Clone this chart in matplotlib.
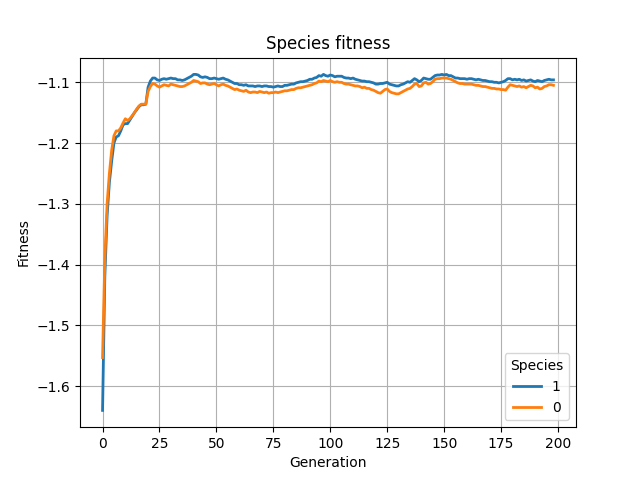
import matplotlib
matplotlib.use("Agg")
import matplotlib.pyplot as plt

species_1 = [
    -1.640, -1.420, -1.320, -1.265, -1.230, -1.200, -1.190, -1.188, -1.180, -1.170,
    -1.168, -1.168, -1.162, -1.156, -1.150, -1.145, -1.140, -1.137, -1.137, -1.136,
    -1.108, -1.098, -1.093, -1.093, -1.096, -1.097, -1.095, -1.094, -1.095, -1.094,
    -1.093, -1.094, -1.094, -1.096, -1.096, -1.097, -1.096, -1.094, -1.092, -1.090,
    -1.087, -1.087, -1.088, -1.091, -1.092, -1.091, -1.092, -1.094, -1.094, -1.093,
    -1.094, -1.095, -1.094, -1.093, -1.095, -1.096, -1.098, -1.100, -1.102, -1.102,
    -1.104, -1.104, -1.105, -1.104, -1.106, -1.106, -1.106, -1.107, -1.106, -1.106,
    -1.107, -1.106, -1.106, -1.107, -1.107, -1.108, -1.107, -1.106, -1.107, -1.107,
    -1.105, -1.105, -1.104, -1.103, -1.103, -1.101, -1.100, -1.099, -1.099, -1.098,
    -1.097, -1.095, -1.095, -1.093, -1.092, -1.089, -1.090, -1.087, -1.089, -1.090,
    -1.088, -1.089, -1.091, -1.090, -1.090, -1.090, -1.092, -1.093, -1.093, -1.094,
    -1.093, -1.095, -1.096, -1.097, -1.098, -1.098, -1.099, -1.099, -1.100, -1.101,
    -1.103, -1.103, -1.102, -1.102, -1.101, -1.100, -1.103, -1.104, -1.105, -1.106,
    -1.106, -1.104, -1.103, -1.101, -1.099, -1.100, -1.097, -1.094, -1.096, -1.099,
    -1.097, -1.093, -1.094, -1.095, -1.095, -1.092, -1.089, -1.088, -1.088, -1.087,
    -1.088, -1.087, -1.089, -1.089, -1.091, -1.093, -1.093, -1.094, -1.094, -1.094,
    -1.095, -1.094, -1.094, -1.095, -1.096, -1.095, -1.096, -1.097, -1.097, -1.098,
    -1.099, -1.099, -1.100, -1.100, -1.101, -1.100, -1.099, -1.097, -1.094, -1.094,
    -1.096, -1.095, -1.096, -1.095, -1.097, -1.096, -1.098, -1.097, -1.096, -1.098,
    -1.099, -1.097, -1.098, -1.099, -1.097, -1.096, -1.095, -1.096, -1.096,
]

species_0 = [
    -1.553, -1.392, -1.300, -1.250, -1.212, -1.188, -1.180, -1.180, -1.175, -1.167,
    -1.160, -1.163, -1.160, -1.155, -1.150, -1.144, -1.139, -1.136, -1.136, -1.136,
    -1.115, -1.107, -1.102, -1.103, -1.106, -1.108, -1.106, -1.104, -1.105, -1.106,
    -1.103, -1.104, -1.105, -1.106, -1.107, -1.107, -1.106, -1.104, -1.102, -1.100,
    -1.097, -1.098, -1.099, -1.102, -1.101, -1.101, -1.103, -1.104, -1.103, -1.102,
    -1.104, -1.106, -1.104, -1.103, -1.105, -1.106, -1.108, -1.110, -1.112, -1.111,
    -1.113, -1.114, -1.115, -1.113, -1.116, -1.117, -1.116, -1.116, -1.117, -1.115,
    -1.116, -1.117, -1.116, -1.118, -1.117, -1.117, -1.116, -1.117, -1.116, -1.115,
    -1.114, -1.114, -1.113, -1.112, -1.112, -1.110, -1.109, -1.109, -1.108, -1.107,
    -1.106, -1.105, -1.104, -1.102, -1.101, -1.098, -1.099, -1.097, -1.098, -1.099,
    -1.097, -1.099, -1.100, -1.099, -1.100, -1.100, -1.102, -1.103, -1.103, -1.104,
    -1.105, -1.106, -1.106, -1.107, -1.109, -1.108, -1.110, -1.110, -1.112, -1.113,
    -1.115, -1.117, -1.118, -1.115, -1.112, -1.111, -1.115, -1.117, -1.118, -1.119,
    -1.119, -1.117, -1.115, -1.113, -1.111, -1.110, -1.107, -1.103, -1.102, -1.107,
    -1.106, -1.101, -1.100, -1.103, -1.102, -1.099, -1.095, -1.094, -1.094, -1.093,
    -1.093, -1.093, -1.094, -1.095, -1.097, -1.099, -1.101, -1.102, -1.102, -1.103,
    -1.103, -1.103, -1.103, -1.104, -1.105, -1.105, -1.106, -1.107, -1.107, -1.108,
    -1.109, -1.110, -1.110, -1.111, -1.111, -1.112, -1.112, -1.113, -1.108, -1.104,
    -1.105, -1.106, -1.107, -1.106, -1.108, -1.107, -1.109, -1.107, -1.105, -1.106,
    -1.109, -1.108, -1.111, -1.110, -1.107, -1.106, -1.104, -1.104, -1.105,
]

generations = list(range(len(species_1)))

fig, ax = plt.subplots(figsize=(6.4, 4.8), dpi=100)
ax.plot(generations, species_1, color="#1f77b4", linewidth=2, label="1")
ax.plot(generations, species_0, color="#ff7f0e", linewidth=2, label="0")
ax.set_title("Species fitness")
ax.set_xlabel("Generation")
ax.set_ylabel("Fitness")
ax.grid(True)
ax.legend(title="Species", loc="lower right")
fig.savefig("out.png", dpi=100)
